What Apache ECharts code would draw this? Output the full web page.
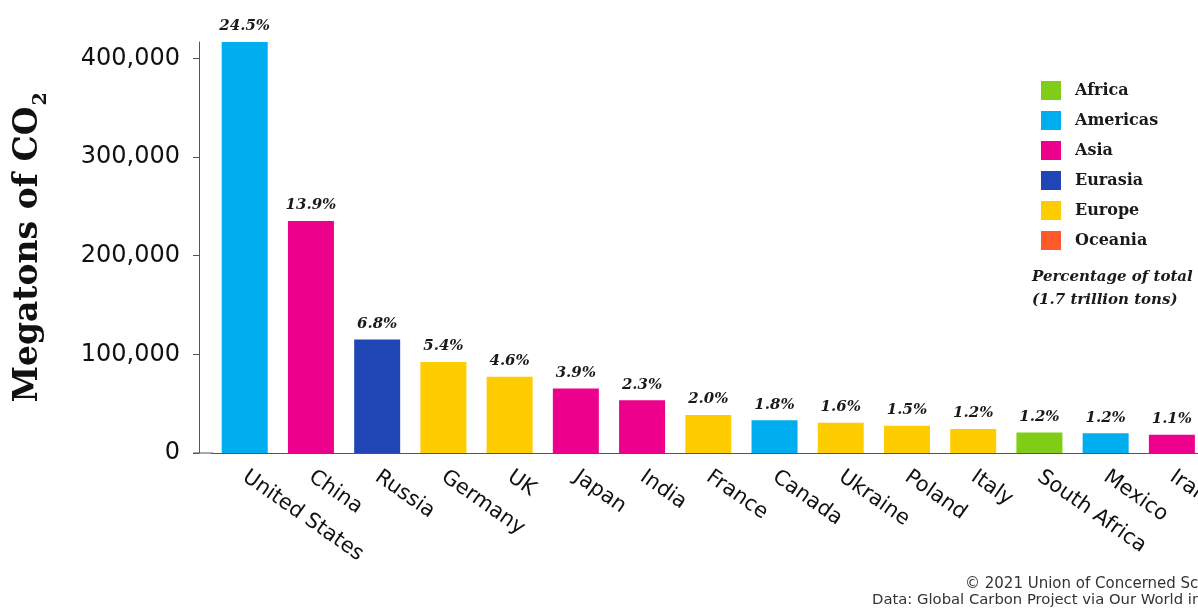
<!DOCTYPE html>
<html>
<head>
<meta charset="utf-8">
<script src="https://cdn.jsdelivr.net/npm/echarts@6/dist/echarts.min.js"></script>
<style>
  html, body { margin: 0; padding: 0; background: #fff; }
  #chart { width: 1198px; height: 611px; }
</style>
</head>
<body>
<div id="chart"></div>
<script>
// Cumulative CO2 emissions by country, coloured by world region
const categories = ['United States', 'China', 'Russia', 'Germany', 'UK', 'Japan', 'India',
  'France', 'Canada', 'Ukraine', 'Poland', 'Italy', 'South Africa', 'Mexico', 'Iran'];
const emissions = [416500, 235000, 115000, 92300, 77200, 65400, 53500,
  38400, 33300, 30600, 27600, 24300, 20900, 19900, 18500];
const shares = ['24.5%', '13.9%', '6.8%', '5.4%', '4.6%', '3.9%', '2.3%',
  '2.0%', '1.8%', '1.6%', '1.5%', '1.2%', '1.2%', '1.2%', '1.1%'];
const countryRegion = ['Americas', 'Asia', 'Eurasia', 'Europe', 'Europe', 'Asia', 'Asia',
  'Europe', 'Americas', 'Europe', 'Europe', 'Europe', 'Africa', 'Americas', 'Asia'];
const regions = ['Africa', 'Americas', 'Asia', 'Eurasia', 'Europe', 'Oceania'];
const regionColors = ['#7fcd16', '#00adee', '#ec008c', '#1f46b4', '#ffcc00', '#ff5a2b'];
const yTicks = [0, 100000, 200000, 300000, 400000];

const serif = '"DejaVu Serif", "Liberation Serif", serif';
const sans = '"DejaVu Sans", "Open Sans", sans-serif';

const chart = echarts.init(document.getElementById('chart'), null, { renderer: 'canvas' });

// one stacked series per region so bars share a slot and the legend lists every region
const series = regions.map((region, r) => ({
  name: region,
  type: 'bar',
  stack: 'countries',
  barWidth: 46,
  itemStyle: { color: regionColors[r] },
  data: emissions.map((v, i) => countryRegion[i] === region ? v : '-'),
  label: {
    show: true,
    position: 'top',
    distance: 8,
    fontFamily: serif,
    fontStyle: 'italic',
    fontWeight: 'bold',
    fontSize: 15,
    color: '#1a1a1a',
    formatter: p => shares[p.dataIndex]
  }
}));

const gridLeft = 211.6;

chart.setOption({
  animation: false,
  backgroundColor: '#ffffff',
  grid: {
    left: gridLeft, top: 42, width: 993.4, bottom: 158,
    containLabel: false, outerBoundsMode: 'none'
  },
  legend: {
    orient: 'vertical',
    left: 1041,
    top: 81,
    padding: 0,
    icon: 'rect',
    itemWidth: 20,
    itemHeight: 19,
    itemGap: 11,
    selectedMode: false,
    data: regions,
    textStyle: {
      fontFamily: serif, fontWeight: 'bold', fontSize: 16, color: '#1a1a1a',
      padding: [0, 0, 0, 9]
    }
  },
  xAxis: {
    type: 'category',
    data: categories,
    axisLine: { show: true, lineStyle: { color: '#555', width: 1 } },
    axisTick: { show: false },
    axisLabel: {
      interval: 0,
      rotate: -35,
      margin: 22,
      fontFamily: sans,
      fontSize: 21,
      color: '#111'
    }
  },
  yAxis: {
    type: 'value',
    min: 0,
    max: Math.max(...emissions),
    offset: gridLeft - 199,
    splitLine: { show: false },
    axisLine: { show: true, lineStyle: { color: '#555', width: 1 } },
    axisTick: { show: true, length: 6, lineStyle: { color: '#555' }, customValues: yTicks },
    axisLabel: {
      customValues: yTicks,
      margin: 19,
      fontFamily: sans,
      fontSize: 24,
      color: '#111',
      formatter: v => v.toLocaleString('en-US')
    },
    name: '{m|Megatons of CO}{s|2}',
    nameLocation: 'middle',
    nameGap: 154,
    nameRotate: 90,
    nameTextStyle: {
      rich: {
        m: { fontFamily: serif, fontWeight: 'bold', fontSize: 33, color: '#111', lineHeight: 40, verticalAlign: 'bottom' },
        s: { fontFamily: serif, fontWeight: 'bold', fontSize: 19, color: '#111', lineHeight: 40, verticalAlign: 'bottom', padding: [0, 0, -6, 1] }
      }
    }
  },
  series: series
});

// baseline segment joining the offset value axis to the category axis, plus notes
const zeroY = chart.convertToPixel({ yAxisIndex: 0 }, 0);
chart.setOption({
  graphic: [
    {
      type: 'line', silent: true,
      shape: { x1: 193, y1: zeroY, x2: gridLeft + 1, y2: zeroY },
      style: { stroke: '#555', lineWidth: 1 }
    },
    {
      type: 'text', left: 1032, top: 266, silent: true,
      style: {
        text: 'Percentage of total\n(1.7 trillion tons)',
        font: 'italic bold 15px ' + serif,
        fill: '#1a1a1a',
        lineHeight: 23
      }
    },
    {
      type: 'text', left: 965, top: 577, silent: true,
      style: { text: '© 2021 Union of Concerned Scientists', font: '15px ' + sans, fill: '#333' }
    },
    {
      type: 'text', left: 872, top: 593, silent: true,
      style: { text: 'Data: Global Carbon Project via Our World in Data', font: '14.8px ' + sans, fill: '#333' }
    }
  ]
});
</script>
</body>
</html>
